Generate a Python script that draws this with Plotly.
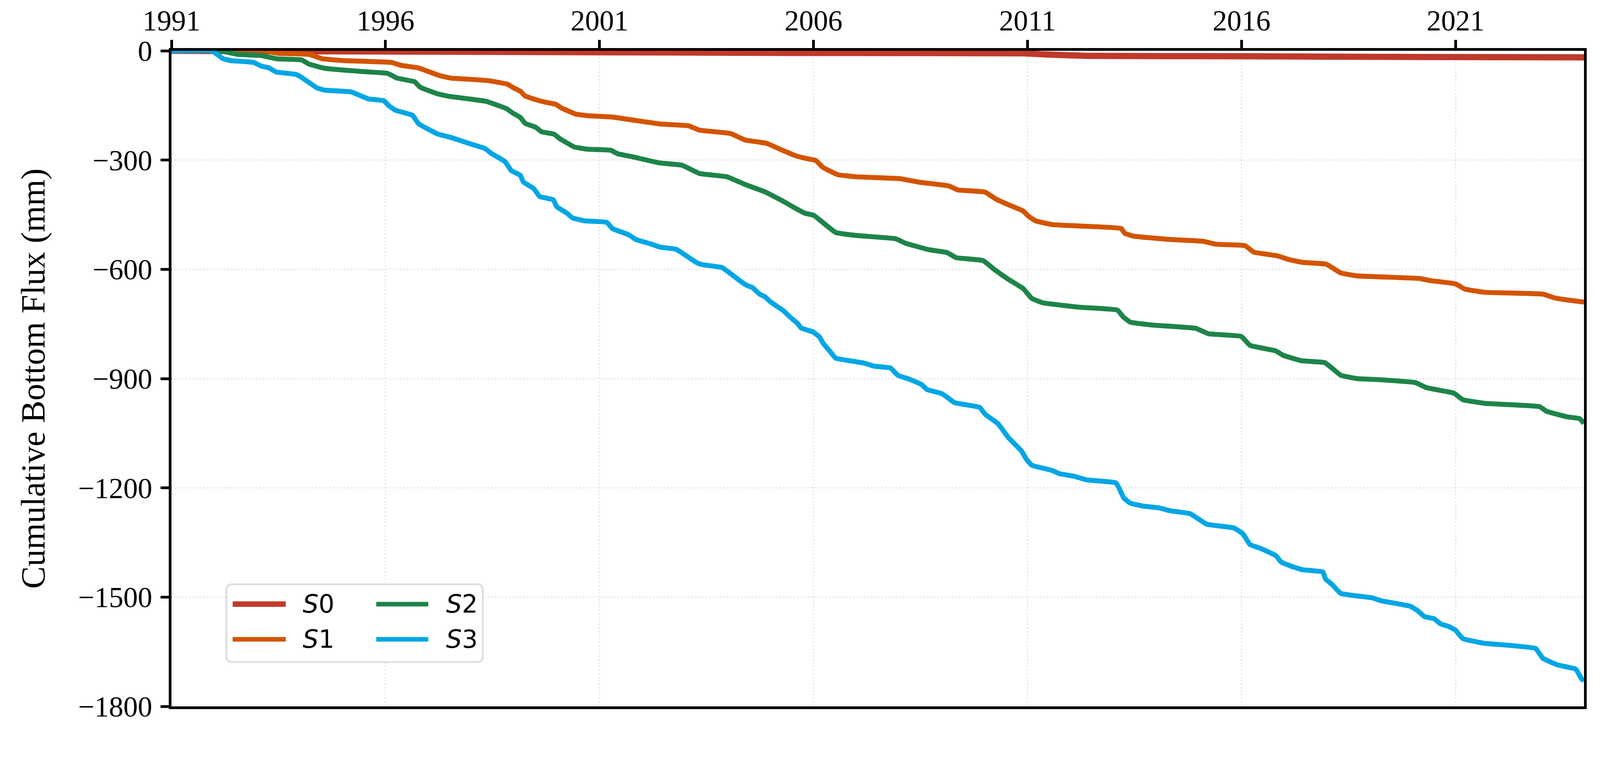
import plotly.graph_objects as go

# ---------------- data ----------------
series_names = ["S0", "S1", "S2", "S3"]
series_colors = ["#c0392b", "#d35400", "#1e8449", "#02a6e4"]

s0_x = [1991.0, 1993.0, 1996.0, 2001.0, 2006.0, 2010.9, 2011.4, 2012.4, 2016.0, 2020.0, 2024.0]
s0_y = [0, -1, -2, -4, -6, -7, -10, -14, -15, -17, -18]

s1_x = [1991.0, 1993.15, 1993.50, 1994.22, 1994.53, 1995.02, 1996.14, 1996.36, 1996.77, 1997.26, 1997.53,
        1997.94, 1998.41, 1998.86, 1998.98, 1999.15, 1999.26, 1999.56, 1999.73, 1999.98, 2000.11, 2000.45,
        2000.71, 2001.30, 2002.41, 2003.08, 2003.34, 2004.06, 2004.40, 2004.90, 2005.29, 2005.58, 2005.84,
        2006.05, 2006.22, 2006.56, 2006.99, 2008.01, 2008.48, 2009.16, 2009.37, 2010.01, 2010.26, 2010.56,
        2010.90, 2011.02, 2011.19, 2011.57, 2012.21, 2013.19, 2013.27, 2013.48, 2014.33, 2015.10, 2015.40,
        2016.08, 2016.29, 2016.84, 2017.10, 2017.43, 2017.98, 2018.32, 2018.70, 2020.15, 2020.41, 2021.00,
        2021.21, 2021.68, 2023.04, 2023.30, 2023.60, 2024.0]
s1_y = [0, 0, -7, -10, -22, -27, -32, -40, -47, -68, -75,
        -78, -82, -92, -101, -111, -124, -136, -141, -147, -157, -174,
        -178, -182, -201, -206, -218, -227, -245, -254, -274, -288, -296,
        -301, -320, -340, -346, -351, -361, -371, -382, -388, -407, -423,
        -440, -454, -467, -477, -481, -488, -501, -509, -518, -523, -531,
        -535, -553, -563, -573, -581, -586, -610, -618, -625, -631, -640,
        -654, -663, -668, -678, -684, -690]

s2_x = [1991.0, 1992.12, 1992.56, 1993.10, 1993.46, 1994.04, 1994.22, 1994.58, 1995.02, 1995.47, 1996.05,
        1996.27, 1996.68, 1996.81, 1997.21, 1997.48, 1997.94, 1998.36, 1998.83, 1998.96, 1999.15, 1999.26,
        1999.51, 1999.64, 1999.94, 2000.07, 2000.41, 2000.71, 2001.26, 2001.43, 2001.77, 2002.41, 2002.92,
        2003.34, 2003.98, 2004.40, 2004.86, 2005.29, 2005.54, 2005.80, 2006.01, 2006.14, 2006.52, 2006.99,
        2007.92, 2008.14, 2008.69, 2009.12, 2009.33, 2009.96, 2010.22, 2010.56, 2010.90, 2011.10, 2011.36,
        2012.21, 2013.10, 2013.23, 2013.40, 2013.91, 2014.93, 2015.23, 2015.99, 2016.20, 2016.80, 2016.97,
        2017.40, 2017.94, 2018.11, 2018.32, 2018.70, 2019.21, 2020.06, 2020.32, 2020.96, 2021.17, 2021.68,
        2022.96, 2023.13, 2023.60, 2023.90, 2024.0]
s2_y = [0, 0, -10, -13, -22, -25, -37, -48, -53, -57, -62,
        -75, -85, -100, -118, -125, -132, -139, -159, -170, -183, -199,
        -210, -222, -229, -241, -264, -270, -273, -283, -291, -308, -314,
        -337, -346, -367, -387, -413, -430, -446, -452, -464, -499, -507,
        -516, -528, -546, -554, -568, -576, -600, -628, -653, -680, -692,
        -704, -712, -730, -745, -753, -762, -777, -784, -809, -824, -836,
        -851, -856, -871, -891, -900, -903, -911, -925, -940, -958, -968,
        -977, -990, -1005, -1010, -1023]

s3_x = [1991.0, 1991.94, 1992.21, 1992.39, 1992.92, 1993.10, 1993.28, 1993.44, 1993.91, 1994.04, 1994.40,
        1994.58, 1995.20, 1995.60, 1995.96, 1996.07, 1996.23, 1996.63, 1996.77, 1997.21, 1997.53, 1997.94,
        1998.32, 1998.49, 1998.79, 1998.94, 1999.15, 1999.22, 1999.47, 1999.60, 1999.92, 2000.00, 2000.24,
        2000.37, 2000.66, 2001.17, 2001.30, 2001.68, 2001.85, 2002.19, 2002.41, 2002.79, 2003.26, 2003.39,
        2003.86, 2004.32, 2004.44, 2004.57, 2004.74, 2004.86, 2004.99, 2005.29, 2005.46, 2005.63, 2005.71,
        2005.99, 2006.14, 2006.23, 2006.39, 2006.52, 2007.16, 2007.42, 2007.80, 2007.97, 2008.27, 2008.52,
        2008.65, 2008.99, 2009.12, 2009.29, 2009.88, 2010.01, 2010.31, 2010.56, 2010.86, 2010.97, 2011.10,
        2011.57, 2011.74, 2012.08, 2012.38, 2013.06, 2013.14, 2013.25, 2013.40, 2013.69, 2014.08, 2014.33,
        2014.80, 2015.19, 2015.82, 2016.03, 2016.20, 2016.46, 2016.80, 2016.93, 2017.18, 2017.43, 2017.90,
        2017.96, 2018.11, 2018.32, 2019.05, 2019.26, 2019.94, 2020.11, 2020.28, 2020.49, 2020.66, 2020.83,
        2021.00, 2021.17, 2021.68, 2022.11, 2022.87, 2023.04, 2023.38, 2023.81, 2023.94, 2024.0]
s3_y = [0, 0, -22, -27, -32, -42, -47, -58, -65, -73, -102,
        -108, -113, -132, -137, -150, -163, -177, -200, -228, -238, -254,
        -268, -283, -304, -329, -342, -360, -379, -400, -409, -428, -446,
        -459, -467, -471, -488, -505, -518, -530, -539, -545, -581, -587,
        -595, -635, -644, -650, -668, -675, -689, -713, -732, -749, -761,
        -772, -786, -804, -826, -844, -857, -866, -871, -891, -903, -916,
        -930, -941, -951, -966, -979, -998, -1024, -1063, -1099, -1121, -1138,
        -1152, -1161, -1168, -1178, -1186, -1201, -1228, -1242, -1250, -1255, -1263,
        -1271, -1300, -1310, -1326, -1356, -1367, -1386, -1404, -1416, -1425, -1431,
        -1450, -1465, -1490, -1502, -1510, -1525, -1537, -1554, -1559, -1574, -1580,
        -1591, -1614, -1627, -1631, -1641, -1668, -1686, -1698, -1724, -1730]

x_tick_vals = [1991, 1996, 2001, 2006, 2011, 2016, 2021]
x_tick_text = ["1991", "1996", "2001", "2006", "2011", "2016", "2021"]
y_tick_vals = [0, -300, -600, -900, -1200, -1500, -1800]
y_tick_text = ["0", "\u2212300", "\u2212600", "\u2212900", "\u22121200", "\u22121500", "\u22121800"]
y_title = "Cumulative Bottom Flux (mm)"
legend_labels = ["<i>S</i>0", "<i>S</i>1", "<i>S</i>2", "<i>S</i>3"]

# ---------------- layout geometry ----------------
# The page is photographed at a device scale of ~1.066 with an 8px body margin,
# so target screenshot pixels are converted to CSS pixels of the figure.
K, OFF = 1.0664, 8


def c(dev):
    return dev / K - OFF


def s(dev):
    return dev / K


W, H = 4080, 1858
PL, PR, PT, PB = c(468), c(4324), c(139), c(1928)
ML, MR, MT, MB = PL, W - PR, PT, H - PB
PW, PH = PR - PL, PB - PT


def px(dev_x):
    return (c(dev_x) - PL) / PW


def py(dev_y):
    return (PB - c(dev_y)) / PH


xs = [s0_x, s1_x, s2_x, s3_x]
ys = [s0_y, s1_y, s2_y, s3_y]
widths = [s(17), s(13.5), s(13.5), s(13.5)]

fig = go.Figure()
for name, color, x, y, w in zip(series_names, series_colors, xs, ys, widths):
    fig.add_trace(go.Scatter(x=x, y=y, mode="lines", name=name,
                             line=dict(color=color, width=w, shape="spline", smoothing=0.3),
                             showlegend=False))

serif = "Liberation Serif"
axis_common = dict(showline=True, linecolor="black", linewidth=s(7), mirror=True,
                   ticks="outside", ticklen=s(23), tickwidth=s(7), tickcolor="black",
                   showgrid=True, gridcolor="#dcdcdc", gridwidth=s(3), griddash="3px,6px",
                   zeroline=False, automargin=False,
                   tickfont=dict(family=serif, size=s(79), color="black"))

fig.update_xaxes(range=[1991, 2024], side="top", tickmode="array",
                 tickvals=x_tick_vals, ticktext=x_tick_text, ticklabelstandoff=-6,
                 **axis_common)
fig.update_yaxes(range=[-1800, 0], tickmode="array", tickvals=y_tick_vals,
                 ticktext=y_tick_text, ticklabelstandoff=6,
                 title=dict(text=y_title, font=dict(family=serif, size=s(92), color="black"),
                            standoff=59),
                 **axis_common)

# ---------------- legend (frame, samples, labels) ----------------
bx0, bx1, by0, by1, r = 618, 1318, 1595, 1807, 16
rx, ry = s(r) / PW, s(r) / PH
X0, X1, Y0, Y1 = px(bx0), px(bx1), py(by1), py(by0)
path = (f"M{X0+rx},{Y0} L{X1-rx},{Y0} Q{X1},{Y0} {X1},{Y0+ry} L{X1},{Y1-ry} "
        f"Q{X1},{Y1} {X1-rx},{Y1} L{X0+rx},{Y1} Q{X0},{Y1} {X0},{Y1-ry} "
        f"L{X0},{Y0+ry} Q{X0},{Y0} {X0+rx},{Y0} Z")
shapes = [dict(type="path", path=path, xref="paper", yref="paper",
               fillcolor="white", line=dict(color="#dedede", width=s(5)), layer="above")]

cols = [(635, 780, 824), (1027, 1169, 1215)]
rows = [1649, 1745]
slots = [(0, 0), (0, 1), (1, 0), (1, 1)]  # (column, row) for S0..S3
annotations = []
for i, ((cc, rw), color, label) in enumerate(zip(slots, series_colors, legend_labels)):
    lx0, lx1, tx = cols[cc]
    yy = py(rows[rw])
    shapes.append(dict(type="line", xref="paper", yref="paper", x0=px(lx0), x1=px(lx1),
                       y0=yy, y1=yy, line=dict(color=color, width=s(15) if i == 0 else s(12.5)),
                       layer="above"))
    annotations.append(dict(text=label, xref="paper", yref="paper", x=px(tx), y=yy,
                            xanchor="left", yanchor="middle", showarrow=False,
                            font=dict(family="DejaVu Sans", size=s(68), color="black")))

fig.update_layout(width=W, height=H, margin=dict(l=ML, r=MR, t=MT, b=MB, pad=0),
                  plot_bgcolor="white", paper_bgcolor="white",
                  shapes=shapes, annotations=annotations, showlegend=False)

fig.write_html("out.html")
